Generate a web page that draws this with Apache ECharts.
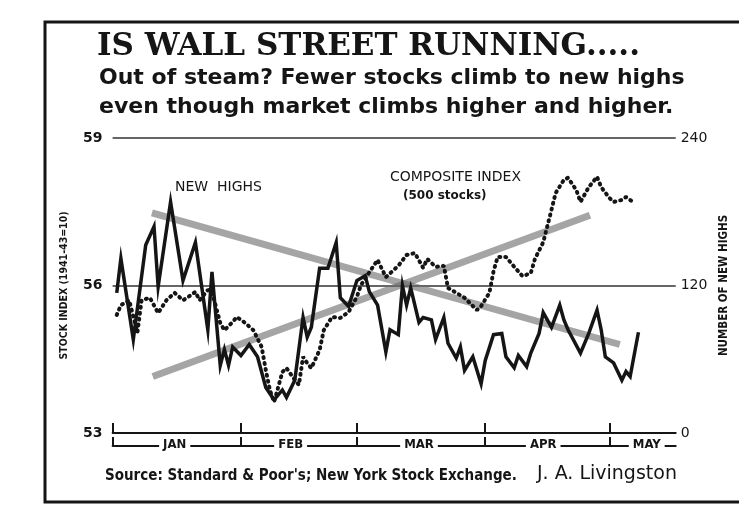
<!DOCTYPE html>
<html>
<head>
<meta charset="utf-8">
<style>
  html, body { margin: 0; padding: 0; background: #fff; }
  #chart { width: 739px; height: 505px; }
</style>
<script src="https://cdn.jsdelivr.net/npm/echarts@6/dist/echarts.min.js"></script>
</head>
<body>
<div id="chart"></div>
<script>
// x values are day of the year (1959)
var monthStartDays = [1, 32, 60, 91, 121]
var monthNames = ['JAN', 'FEB', 'MAR', 'APR', 'MAY']
var monthLabelDays = [16, 44, 75, 105, 130]

// new highs (right axis)
var highsDays = [2, 3, 6, 9, 11, 12, 15, 18, 21, 24, 25, 27, 28, 29, 30, 32, 34, 36, 38, 40,
  42, 43, 45, 47, 48, 49, 51, 53, 55, 56, 58, 60, 62, 63, 65, 67, 68, 70, 71, 72,
  73, 75, 76, 78, 79, 81, 82, 84, 85, 86, 88, 90, 91, 93, 95, 96, 98, 99, 101, 102,
  104, 105, 107, 109, 110, 111, 114, 116, 118, 119, 120, 122, 124, 125, 126, 128]
var highsValues = [114, 142, 76, 153, 168, 119, 188, 124, 155, 84, 131, 55, 68, 55, 70, 63, 72, 62, 37, 27,
  35, 29, 43, 94, 78, 86, 134, 134, 155, 110, 103, 124, 128, 115, 104, 66, 84, 80, 120, 104,
  118, 90, 94, 92, 76, 94, 73, 61, 70, 51, 62, 40, 59, 80, 81, 62, 53, 63, 54, 65,
  81, 98, 86, 104, 92, 84, 65, 81, 100, 84, 62, 57, 43, 50, 46, 82]

// composite index, 500 stocks (left axis)
var compDays = [2, 3, 5, 7, 8, 10, 12, 14, 16, 18, 19, 21, 22, 24, 25, 27, 28, 30, 31, 33,
  35, 37, 38, 39, 40, 42, 43, 45, 46, 47, 48, 49, 51, 52, 54, 56, 58, 60, 61, 63,
  65, 67, 70, 72, 74, 76, 77, 79, 81, 82, 84, 86, 89, 90, 92, 93, 94, 96, 98, 100,
  102, 103, 105, 106, 107, 108, 110, 111, 113, 114, 116, 118, 119, 121, 122, 124, 125, 127]
var compValues = [55.40, 55.60, 55.70, 55.05, 55.70, 55.75, 55.44, 55.70, 55.85, 55.70, 55.75, 55.87, 55.70, 55.91, 55.87, 55.24, 55.09, 55.26, 55.36, 55.24,
  55.09, 54.75, 54.28, 53.87, 53.63, 54.24, 54.32, 54.08, 53.98, 54.55, 54.42, 54.32, 54.69, 55.09, 55.36, 55.34, 55.46, 55.77, 56.01, 56.27,
  56.52, 56.17, 56.40, 56.62, 56.66, 56.36, 56.54, 56.38, 56.40, 55.95, 55.85, 55.75, 55.50, 55.58, 55.85, 56.29, 56.58, 56.58, 56.38, 56.19,
  56.25, 56.54, 56.88, 57.21, 57.54, 57.88, 58.15, 58.19, 57.94, 57.70, 58.00, 58.21, 58.00, 57.78, 57.70, 57.74, 57.80, 57.68]

// trend lines drawn over the two series
var highsTrendDays = [10.5, 123.5]
var highsTrendValues = [179, 72]
var compTrendDays = [10.7, 116.3]
var compTrendValues = [54.15, 57.43]

function pairs(xs, ys) {
  return xs.map(function (x, i) { return [x, ys[i]] })
}

var chart = echarts.init(document.getElementById('chart'))

var ink = '#151515'
var trendColor = 'rgba(105,105,105,0.6)'

chart.setOption({
  backgroundColor: '#fff',
  animation: false,
  textStyle: { fontFamily: 'DejaVu Sans', color: ink },
  grid: { left: 112.6, right: 63.3, top: 138, bottom: 72 },
  xAxis: [{
    type: 'value',
    min: 1,
    max: 137,
    axisLine: { show: true, lineStyle: { color: ink, width: 2 } },
    axisTick: { show: true, inside: true, length: 10, customValues: monthStartDays, lineStyle: { color: ink, width: 2 } },
    axisLabel: { show: false },
    splitLine: { show: false }
  }, {
    type: 'value',
    min: 1,
    max: 137,
    position: 'bottom',
    offset: 13,
    axisLine: { show: true, lineStyle: { color: ink, width: 2 } },
    axisTick: { show: true, inside: true, length: 9, customValues: monthStartDays, lineStyle: { color: ink, width: 2 } },
    axisLabel: {
      show: true,
      customValues: monthLabelDays,
      margin: -8,
      formatter: function (v) { return monthNames[monthLabelDays.indexOf(v)] },
      fontFamily: 'DejaVu Sans Condensed',
      fontWeight: 'bold',
      fontSize: 13,
      color: ink,
      backgroundColor: '#fff',
      padding: [0, 4, 0, 4]
    },
    splitLine: { show: false }
  }],
  yAxis: [{
    type: 'value',
    min: 53,
    max: 59,
    interval: 3,
    position: 'left',
    name: 'STOCK INDEX (1941-43=10)',
    nameLocation: 'middle',
    nameRotate: 90,
    nameGap: 43,
    nameTextStyle: { fontFamily: 'DejaVu Sans Condensed', fontWeight: 'bold', fontSize: 10.5, color: ink },
    axisLine: { show: false },
    axisTick: { show: false },
    axisLabel: { margin: 10, fontSize: 14, fontWeight: 'bold', color: ink },
    splitLine: { show: true, lineStyle: { color: '#333', width: 1.5 } }
  }, {
    type: 'value',
    min: 0,
    max: 240,
    interval: 120,
    position: 'right',
    name: 'NUMBER OF NEW HIGHS',
    nameLocation: 'middle',
    nameRotate: 90,
    nameGap: 42,
    nameTextStyle: { fontFamily: 'DejaVu Sans Condensed', fontWeight: 'bold', fontSize: 11.5, color: ink },
    axisLine: { show: false },
    axisTick: { show: false },
    axisLabel: { margin: 5, fontSize: 14, color: ink },
    splitLine: { show: false }
  }],
  series: [{
    name: 'highs trend',
    type: 'line',
    yAxisIndex: 1,
    data: pairs(highsTrendDays, highsTrendValues),
    showSymbol: false,
    lineStyle: { color: trendColor, width: 7 },
    z: 1
  }, {
    name: 'index trend',
    type: 'line',
    yAxisIndex: 0,
    data: pairs(compTrendDays, compTrendValues),
    showSymbol: false,
    lineStyle: { color: trendColor, width: 7 },
    z: 1
  }, {
    name: 'COMPOSITE INDEX',
    type: 'line',
    yAxisIndex: 0,
    data: pairs(compDays, compValues),
    showSymbol: false,
    lineStyle: { color: ink, width: 4, type: [1, 5], cap: 'round' },
    z: 2
  }, {
    name: 'NEW HIGHS',
    type: 'line',
    yAxisIndex: 1,
    data: pairs(highsDays, highsValues),
    showSymbol: false,
    lineStyle: { color: ink, width: 3.5, join: 'miter' },
    z: 3
  }],
  graphic: [{
    type: 'rect',
    shape: { x: 45, y: 22, width: 700, height: 480 },
    style: { fill: 'none', stroke: ink, lineWidth: 3 },
    silent: true
  }, {
    type: 'text', left: 97, top: 31,
    style: { text: 'IS WALL STREET RUNNING.....', font: 'bold 31px "DejaVu Serif"', fill: ink }
  }, {
    type: 'text', left: 99, top: 67,
    style: { text: 'Out of steam? Fewer stocks climb to new highs', font: 'bold 22px "DejaVu Sans"', fill: ink }
  }, {
    type: 'text', left: 99, top: 96,
    style: { text: 'even though market climbs higher and higher.', font: 'bold 22px "DejaVu Sans"', fill: ink }
  }, {
    type: 'text', left: 175, top: 180,
    style: { text: 'NEW  HIGHS', font: '14px "DejaVu Sans"', fill: ink }
  }, {
    type: 'text', left: 390, top: 170,
    style: { text: 'COMPOSITE INDEX', font: '14px "DejaVu Sans"', fill: ink }
  }, {
    type: 'text', left: 403, top: 190,
    style: { text: '(500 stocks)', font: 'bold 12px "DejaVu Sans"', fill: ink }
  }, {
    type: 'text', left: 105, top: 469,
    style: { text: "Source: Standard & Poor's; New York Stock Exchange.", font: 'bold 15px "DejaVu Sans Condensed"', fill: ink }
  }, {
    type: 'text', left: 537, top: 465,
    style: { text: 'J. A. Livingston', font: '19px "DejaVu Sans"', fill: ink }
  }]
})
</script>
</body>
</html>
